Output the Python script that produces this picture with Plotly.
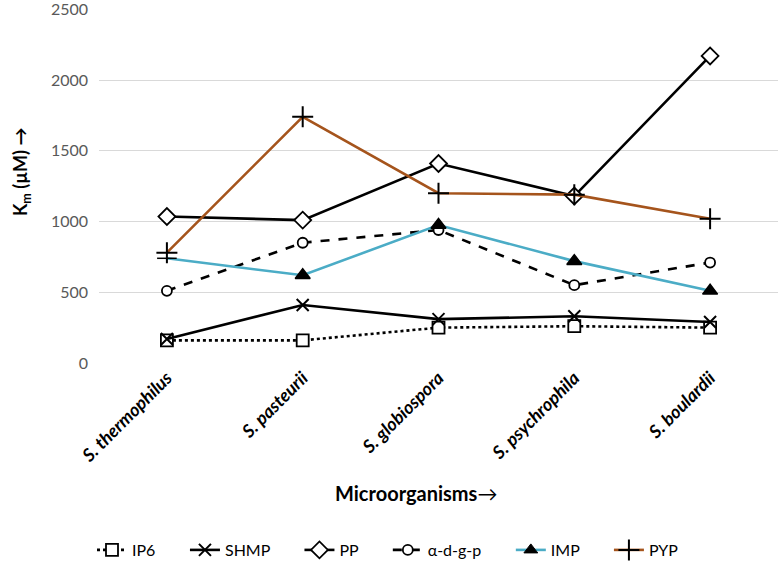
import plotly.graph_objects as go

categories = ["S. thermophilus", "S. pasteurii", "S. globiospora", "S. psychrophila", "S. boulardii"]
ip6 = [160, 160, 250, 260, 250]
shmp = [170, 410, 310, 330, 290]
pp = [1035, 1010, 1410, 1180, 2170]
adgp = [510, 850, 940, 550, 710]
imp = [740, 620, 975, 720, 510]
pyp = [780, 1740, 1200, 1190, 1020]
series_names = ["IP6", "SHMP", "PP", "α-d-g-p", "IMP", "PYP"]
y_ticks = [0, 500, 1000, 1500, 2000, 2500]

FONT = "Lato, 'Open Sans', sans-serif"
PAD = "\u00a0" * 6
W, H = 782, 563
fig = go.Figure()

def add(name, vals, color, dash, symbol, size, fill, lw=2.6, mline=1.6):
    fig.add_trace(go.Scatter(
        x=categories, y=vals, name=name + PAD, mode="lines+markers",
        line=dict(color=color, width=lw, dash=dash),
        marker=dict(symbol=symbol, size=size, color=fill, opacity=1,
                    line=dict(color="black", width=mline)),
    ))

add(series_names[0], ip6, "black", "dot", "square", 12, "white", mline=1.8)
add(series_names[1], shmp, "black", "solid", "x-thin", 12, "black", mline=2)
add(series_names[2], pp, "black", "solid", "diamond", 13, "white", mline=1.8)
add(series_names[3], adgp, "black", "dash", "circle", 10, "white", mline=1.8)
# IMP: legend proxy + data trace
fig.add_trace(go.Scatter(
    x=[None], y=[None], name=series_names[4] + PAD, mode="lines+markers",
    legendgroup="imp",
    line=dict(color="#4bacc6", width=2.6),
    marker=dict(symbol="triangle-up", size=12, color="black", line=dict(color="black", width=1)),
))
fig.add_trace(go.Scatter(
    x=categories, y=imp, name=series_names[4], mode="lines+markers",
    legendgroup="imp", showlegend=False,
    line=dict(color="#4bacc6", width=2.6),
    marker=dict(symbol=["line-ew", "triangle-up", "triangle-up", "triangle-up", "triangle-up"],
                size=[14, 13, 13, 13, 13], color="black", opacity=1,
                line=dict(color="black", width=1.5)),
))
add(series_names[5], pyp, "#a5541c", "solid", "cross-thin", 15, "black", mline=2)

TOP, BOT = 9, 363
PH = BOT - TOP

fig.update_layout(
    width=W, height=H,
    margin=dict(l=99, r=4, t=TOP, b=H - BOT, autoexpand=False),
    plot_bgcolor="white", paper_bgcolor="white",
    font=dict(family=FONT, color="#595959"),
    showlegend=True,
    legend=dict(orientation="h", xref="container", yref="container",
                x=400 / W, xanchor="center",
                y=1 - 550 / H, yanchor="middle",
                font=dict(size=16, color="black"), tracegroupgap=0),
    xaxis=dict(showgrid=False, showline=False, zeroline=False, automargin=False,
               tickangle=-45, tickfont=dict(size=18, color="black", family=FONT),
               ticks="", range=[-0.5, 4.5]),
    yaxis=dict(range=[0, 2502], tickvals=y_ticks, showgrid=True, gridcolor="#d9d9d9",
               gridwidth=1.3, zeroline=False, showline=False, ticks="", automargin=False,
               ticklabeloverflow="allow", ticklabelstandoff=10,
               tickfont=dict(size=16, color="#595959", family=FONT)),
    annotations=[
        dict(text="<b>Microorganisms</b>→", xref="paper", yref="paper",
             x=(416 - 99) / 679, y=(BOT - 493) / PH, xanchor="center", yanchor="middle",
             showarrow=False, font=dict(size=20, color="black", family=FONT)),
        dict(text="<b>K<sub>m</sub> (µM) →</b>", xref="paper", yref="paper",
             x=(21 - 99) / 679, y=(BOT - 172) / PH, xanchor="center", yanchor="middle",
             textangle=-90, showarrow=False, font=dict(size=18, color="black", family=FONT)),
    ],
)
fig.update_xaxes(tickprefix="<b><i>", ticksuffix="</i></b>")
fig.update_yaxes(tickprefix="<b>", ticksuffix="</b>")

fig.write_html("out.html", config={"displayModeBar": False},
               post_script="document.body.style.margin='0';document.body.style.padding='0';")
